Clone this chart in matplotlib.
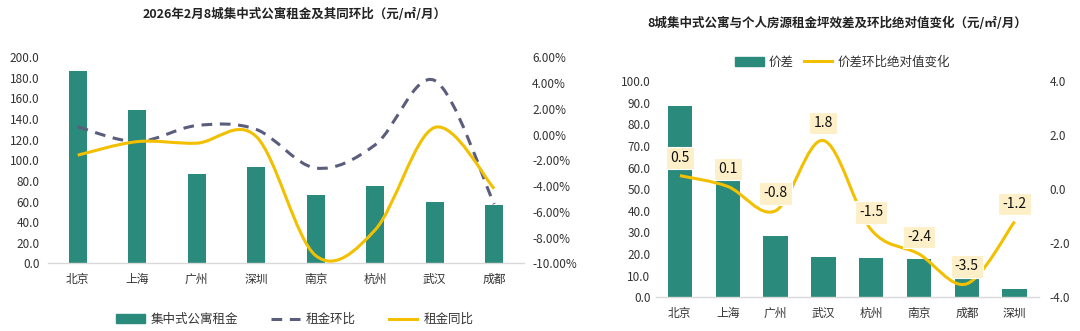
import matplotlib
matplotlib.use("Agg")
import matplotlib.pyplot as plt
from matplotlib.path import Path
from matplotlib.patches import PathPatch, Patch
from matplotlib.lines import Line2D
from matplotlib.ticker import FuncFormatter

plt.rcParams['font.family'] = ['Noto Sans CJK SC', 'DejaVu Sans']

# left chart data
cities_l = ['北京', '上海', '广州', '深圳', '南京', '杭州', '武汉', '成都']
rent = [187.0, 148.5, 86.5, 93.5, 66.7, 75.4, 59.5, 57.0]
rent_mom = [0.6, -0.55, 0.7, 0.4, -2.6, -0.8, 4.2, -5.4]     # 环比 %
rent_yoy = [-1.6, -0.55, -0.67, -0.15, -9.4, -7.4, 0.55, -4.2]  # 同比 %

# right chart data
cities_r = ['北京', '上海', '广州', '武汉', '杭州', '南京', '成都', '深圳']
spread = [88.3, 53.9, 28.3, 18.5, 18.2, 17.9, 9.4, 4.0]
spread_chg = [0.5, 0.1, -0.8, 1.8, -1.5, -2.4, -3.5, -1.2]

TEAL = '#2A8A7C'
GOLD = '#F2C000'
SLATE = '#5A5E7C'
AXIS_GRAY = '#D9D9D9'
TXT = '#333333'


def smooth_path(xs, ys):
    # Excel-style smoothed line: cubic bezier with Catmull-Rom control points
    pts = list(zip(xs, ys))
    n = len(pts)
    verts = [pts[0]]
    codes = [Path.MOVETO]
    for i in range(n - 1):
        p0 = pts[i - 1] if i > 0 else pts[i]
        p1 = pts[i]
        p2 = pts[i + 1]
        p3 = pts[i + 2] if i + 2 < n else pts[i + 1]
        c1 = (p1[0] + (p2[0] - p0[0]) / 6, p1[1] + (p2[1] - p0[1]) / 6)
        c2 = (p2[0] - (p3[0] - p1[0]) / 6, p2[1] - (p3[1] - p1[1]) / 6)
        verts += [c1, c2, p2]
        codes += [Path.CURVE4] * 3
    return Path(verts, codes)


def style_axes(ax, ax2):
    for a in (ax, ax2):
        for s in ('top', 'left', 'right', 'bottom'):
            a.spines[s].set_visible(False)
        a.tick_params(length=0, labelsize=8.5, colors=TXT)
    ax.spines['bottom'].set_visible(True)
    ax.spines['bottom'].set_color(AXIS_GRAY)
    ax.spines['bottom'].set_linewidth(1)


fig = plt.figure(figsize=(10.8, 3.31), dpi=100)

# ---------------- left chart ----------------
ax = fig.add_axes([0.0444, 0.2045, 0.4407, 0.6224])
ax2 = ax.twinx()
x = list(range(len(cities_l)))
ax.bar(x, rent, width=0.30, color=TEAL, zorder=2)
ax.set_xlim(-0.5, 7.5)
ax.set_ylim(0, 200)
ax.set_yticks(range(0, 201, 20))
ax.yaxis.set_major_formatter(FuncFormatter(lambda v, p: f'{v:.1f}'))
ax.set_xticks(x)
ax.set_xticklabels(cities_l, fontsize=9)
ax.tick_params(axis='x', pad=7)

ax2.set_ylim(-10, 6)
ax2.set_yticks(range(-10, 7, 2))
ax2.yaxis.set_major_formatter(FuncFormatter(lambda v, p: f'{v:.2f}%'))
ax2.add_patch(PathPatch(smooth_path(x, rent_mom), fill=False, edgecolor=SLATE,
                        lw=2.2, linestyle=(0, (3.5, 2.5)), capstyle='butt', zorder=3))
ax2.add_patch(PathPatch(smooth_path(x, rent_yoy), fill=False, edgecolor=GOLD,
                        lw=2.2, zorder=4))
style_axes(ax, ax2)
ax.tick_params(axis='y', pad=6)
ax2.tick_params(axis='y', pad=6)

fig.text(0.273, 0.955, '2026年2月8城集中式公寓租金及其同环比（元/㎡/月）',
         ha='center', va='center', fontsize=9, fontweight='bold', color='#222222')

handles = [Patch(color=TEAL),
           Line2D([], [], color=SLATE, lw=2.2, linestyle=(0, (3.5, 2.5))),
           Line2D([], [], color=GOLD, lw=2.2)]
fig.legend(handles, ['集中式公寓租金', '租金环比', '租金同比'], loc='center',
           bbox_to_anchor=(0.273, 0.035), ncol=3, frameon=False, fontsize=9,
           handlelength=2.3, columnspacing=2.6, handletextpad=0.5,
           labelcolor=TXT)

# ---------------- right chart ----------------
bx = fig.add_axes([0.6074, 0.1018, 0.3542, 0.6535])
bx2 = bx.twinx()
xr = list(range(len(cities_r)))
bx.bar(xr, spread, width=0.51, color=TEAL, zorder=2)
bx.set_xlim(-0.5, 7.5)
bx.set_ylim(0, 100)
bx.set_yticks(range(0, 101, 10))
bx.yaxis.set_major_formatter(FuncFormatter(lambda v, p: f'{v:.1f}'))
bx.set_xticks(xr)
bx.set_xticklabels(cities_r, fontsize=9)
bx.tick_params(axis='x', pad=7)

bx2.set_ylim(-4, 4)
bx2.set_yticks(range(-4, 5, 2))
bx2.yaxis.set_major_formatter(FuncFormatter(lambda v, p: f'{v:.1f}'))
bx2.add_patch(PathPatch(smooth_path(xr, spread_chg), fill=False, edgecolor=GOLD,
                        lw=2.2, zorder=4))
for xi, v in zip(xr, spread_chg):
    bx2.annotate(f'{v:.1f}', (xi, v), xytext=(0, 12.5), textcoords='offset points',
                 ha='center', va='center', fontsize=10, color='#111111', zorder=6,
                 bbox=dict(boxstyle='square,pad=0.3', fc='#FDF0C8', ec='white', lw=0.8))
style_axes(bx, bx2)
bx.tick_params(axis='y', pad=4)
bx2.tick_params(axis='y', pad=8)

fig.text(0.775, 0.93, '8城集中式公寓与个人房源租金坪效差及环比绝对值变化（元/㎡/月）',
         ha='center', va='center', fontsize=9, fontweight='bold', color='#222222')

handles_r = [Patch(color=TEAL), Line2D([], [], color=GOLD, lw=2.2)]
fig.legend(handles_r, ['价差', '价差环比绝对值变化'], loc='center',
           bbox_to_anchor=(0.78, 0.812), ncol=2, frameon=False, fontsize=9,
           handlelength=2.3, columnspacing=0.8, handletextpad=0.4,
           labelcolor=TXT)

fig.savefig('out.png', dpi=100)
